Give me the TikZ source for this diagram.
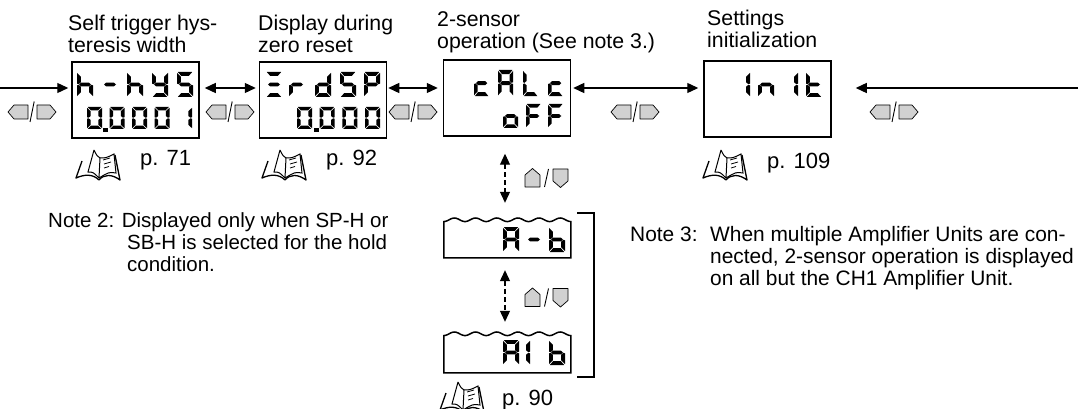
\documentclass[tikz,border=0pt]{standalone}
\usepackage{fontspec}
\setmainfont{Liberation Sans}
\usetikzlibrary{arrows.meta}

% Seven segments in a cell of 16 x 25
\def\sega{\fill (0.8,0) -- (15.2,0) -- (11.8,3.9) -- (4.2,3.9) -- cycle;}
\def\segb{\fill (16,0.9) -- (16,11.6) -- (14.4,12.2) -- (12.2,10.4) -- (12.2,4.6) -- cycle;}
\def\segc{\fill (16,24.1) -- (16,13.4) -- (14.4,12.8) -- (12.2,14.6) -- (12.2,20.4) -- cycle;}
\def\segd{\fill (0.8,25) -- (15.2,25) -- (11.8,21.1) -- (4.2,21.1) -- cycle;}
\def\sege{\fill (0,24.1) -- (0,13.4) -- (1.6,12.8) -- (3.8,14.6) -- (3.8,20.4) -- cycle;}
\def\segf{\fill (0,0.9) -- (0,11.6) -- (1.6,12.2) -- (3.8,10.4) -- (3.8,4.6) -- cycle;}
\def\segg{\fill (2,12.5) -- (4.2,10.6) -- (11.8,10.6) -- (14,12.5) -- (11.8,14.4) -- (4.2,14.4) -- cycle;}

% Characters as lists of segments
\def\lcdh{f,e,g,c}
\def\lcddash{g}
\def\lcdY{f,b,g,c,d}
\def\lcdfive{a,f,g,c,d}
\def\lcdzero{a,b,c,d,e,f}
\def\lcdone{b,c}
\def\lcdbars{a,g,d}
\def\lcdr{e,g}
\def\lcdd{b,c,d,e,g}
\def\lcdP{a,b,f,g,e}
\def\lcdc{g,e,d}
\def\lcdA{a,b,c,e,f,g}
\def\lcdL{f,e,d}
\def\lcdo{c,d,e,g}
\def\lcdF{a,f,g,e}
\def\lcdn{e,g,c}
\def\lcdt{f,e,g,d}
\def\lcdb{f,e,g,c,d}

\newcommand{\lcdchar}[5]{%
    \begin{scope}[shift={(#1,#2)},xscale=#3,yscale=#4]
        \edef\seglist{\csname lcd#5\endcsname}
        \foreach \s in \seglist {\csname seg\s\endcsname}
    \end{scope}}
% y, xscale, yscale, then x/char pairs
\newcommand{\lcdrow}[4]{%
    \foreach \px/\ch in {#4} {\lcdchar{\px}{#1}{#2}{#3}{\ch}}}
% Frame with a wavy top round a named node
\newcommand{\waveframe}[2]{%
    \begin{scope}[shift={(#1.north west)}]
        \draw[frame] (0,#2) -- plot[domain=0:127,samples=73] (\x,{1.8*cos(\x*17.008)}) -- (127,#2) -- cycle;
    \end{scope}}

\tikzset{
    every node/.style={font=\fontsize{21.3}{22}\selectfont, inner sep=0pt},
    label/.style={anchor=base west, align=left},
    notetext/.style={label, font=\fontsize{20.9}{22}\selectfont},
    noteleft/.style={label, font=\fontsize{20.5}{22}\selectfont},
    pagetext/.style={label, font=\fontsize{22}{22}\selectfont},
    frame/.style={line width=1.5pt},
    lcdbox/.style={draw, line width=1.5pt, minimum width=127pt, minimum height=76pt},
    wavebox/.style={minimum width=127pt},
    key/.style={draw, line width=0.7pt, fill=black!18, line join=round},
    lrkeys/.pic={
        \draw[key] (-24,0) -- (-18,-7) -- (-4,-7) -- (-4,7) -- (-18,7) -- cycle;
        \draw[key] (5,-7) -- (18,-7) -- (24,0) -- (18,7) -- (5,7) -- cycle;
        \draw[line width=0.9pt] (2.2,-10.5) -- (-2,10);
    },
    udkeys/.pic={
        \draw[key] (-14,-9.5) -- (-6.5,-3) -- (-6.5,9) -- (-21.5,9) -- (-21.5,-3) -- cycle;
        \draw[key] (6.5,-9) -- (21.5,-9) -- (21.5,3) -- (14,9.5) -- (6.5,3) -- cycle;
        \draw[line width=0.9pt] (2,-9) -- (-2,9);
    },
    book/.pic={
        \draw[line width=1.3pt, line join=round] (6,11) -- (0,28) .. controls (9,24) and (17,24) .. (23,30)
            .. controls (28,24) and (36,24) .. (44,30) -- (39,5);
        \draw[line width=1pt] (18,0) -- (12,22) .. controls (17,22) .. (23,28) -- (24,8) .. controls (21,6) .. (18,0);
        \draw[line width=1pt] (24,8) .. controls (30,8) .. (38,4) -- (40,23) .. controls (33,22) .. (23,28);
        \draw[line width=0.8pt] (27,10) -- (34,8) (28,14) -- (35,12) (28,18) -- (33,16.5);
    }
}

\begin{document}
\begin{tikzpicture}[x=1pt, y=-1pt, >={Triangle[length=11pt,width=10pt]}]
    \useasboundingbox (0,0) rectangle (1079,409);
    % Displays
    \node[lcdbox] (hys) at (135.5,100) {};
    \node[lcdbox] (zero) at (323,100) {};
    \node[lcdbox] (calc) at (507,98) {};
    \node[lcdbox] (init) at (767.5,99) {};
    \node[wavebox, minimum height=38pt] (ab) at (507.5,239) {};
    \node[wavebox, minimum height=39pt] (aib) at (507.5,353.5) {};
    \waveframe{ab}{38}
    \waveframe{aib}{39}
    % Display contents
    \lcdrow{72}{1}{1}{77/h,102/dash,127/h,152/Y,177/five}
    \lcdrow{107}{0.94}{0.88}{87/zero,109.5/zero,132/zero,154.5/zero,177/one}
    \fill (103,128) rectangle (108,132);
    \lcdrow{72}{1}{1}{266/bars,289/r,315/d,340/five,364/P}
    \lcdrow{107}{0.94}{0.88}{297/zero,319.7/zero,342.4/zero,365/zero}
    \fill (314,128) rectangle (318.5,132);
    \lcdrow{70}{0.95}{1.05}{474/c,498/A,523/L,548/c}
    \lcdrow{104}{0.95}{0.96}{503/o,526/F,548/F}
    \lcdrow{72}{1}{1}{734/one,758/n,782/one,806/t}
    \lcdrow{227}{1}{1}{503/A,526/dash,549/b}
    \lcdrow{340}{1}{1}{503/A,514/one,549/b}
    % Arrows along the row
    \coordinate (row) at (0,88);
    \coordinate (inl) at (0,88);
    \coordinate (inr) at (1078,88);
    \coordinate (mid) at (505,0);
    \draw[->, line width=1.3pt, shorten >=3pt] (inl) -- (hys.west |- row);
    \draw[<->, line width=1.3pt, shorten <=5pt, shorten >=3pt] (hys.east |- row) -- (zero.west |- row);
    \draw[<->, line width=1.3pt, shorten <=1pt, shorten >=5pt] (zero.east |- row) -- (calc.west |- row);
    \draw[<->, line width=1.3pt, shorten <=2pt, shorten >=5pt] (calc.east |- row) -- (init.west |- row);
    \draw[->, line width=1.3pt, shorten >=24pt] (inr) -- (init.east |- row);
    % Dashed arrows
    \draw[<->, dash pattern=on 5pt off 3pt, line width=1.1pt, shorten <=17pt, shorten >=17pt] (calc.south -| mid) -- (ab.north -| mid);
    \draw[<->, dash pattern=on 5pt off 3pt, line width=1.1pt, shorten <=12pt, shorten >=12pt] (ab.south -| mid) -- (aib.north -| mid);
    % Bracket
    \draw[frame] (577,213) -- (594,213) -- (594,377) -- (577,377);
    % Keys
    \pic at (32,112) {lrkeys};
    \pic at (230,112) {lrkeys};
    \pic at (413,112) {lrkeys};
    \pic at (635,112) {lrkeys};
    \pic at (894,112) {lrkeys};
    \pic at (546.5,178) {udkeys};
    \pic at (546.5,297.5) {udkeys};
    % Books and pages
    \pic at (76,150) {book};
    \pic at (262,150) {book};
    \pic at (703,150) {book};
    \pic at (440,382) {book};
    \node[pagetext] (page1) at (140,165) {p. 71};
    \node[pagetext] (page2) at (326,165) {p. 92};
    \node[pagetext] (page3) at (767,168) {p. 109};
    \node[pagetext] (page4) at (502,405) {p. 90};
    % Titles
    \node[label] (title1) at (68,53) {Self trigger hys-\\teresis width};
    \node[label] (title2) at (258,53) {Display during\\zero reset};
    \node[label] (title3) at (437,49) {2-sensor\\operation (See note 3.)};
    \node[label] (title4) at (707,48) {Settings\\initialization};
    % Notes
    \node[noteleft] (note2) at (48,227) {Note 2: Displayed only when SP-H or};
    \node[noteleft] (note2b) at (127,271) {SB-H is selected for the hold\\condition.};
    \node[notetext] (note3) at (630,241) {Note 3:};
    \node[notetext] (note3b) at (710,285) {When multiple Amplifier Units are con-\\nected, 2-sensor operation is displayed\\on all but the CH1 Amplifier Unit.};
\end{tikzpicture}
\end{document}
